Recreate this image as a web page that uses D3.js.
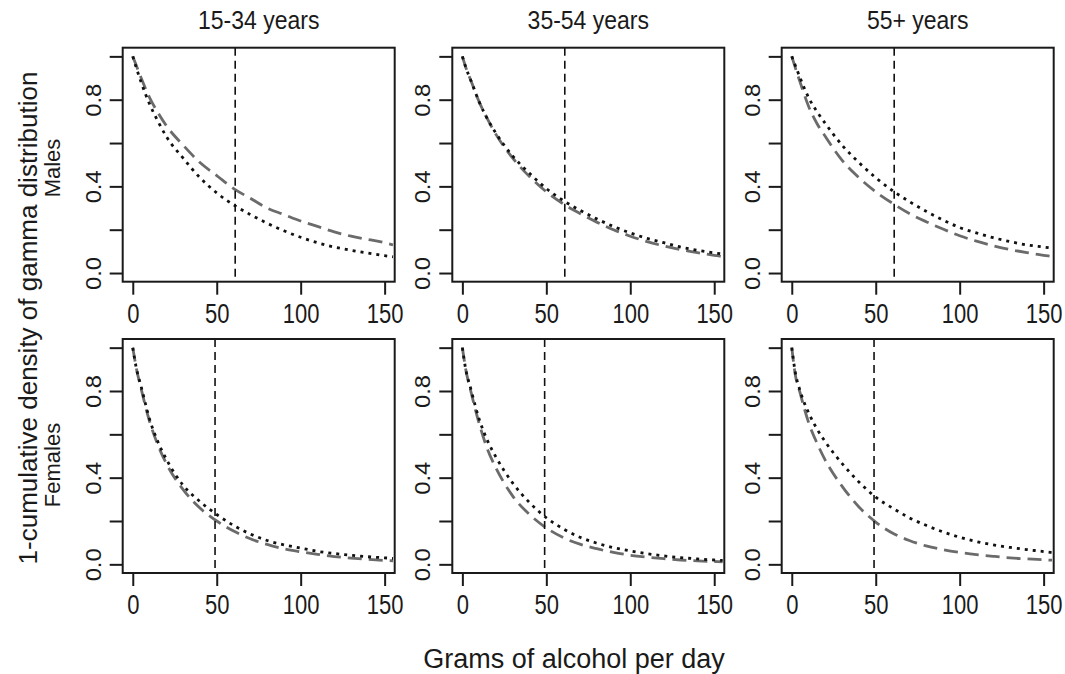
<!DOCTYPE html>
<html>
<head>
<meta charset="utf-8">
<script src="https://cdn.jsdelivr.net/npm/d3@7"></script>
<style>
  body { margin: 0; background: #fff; }
  svg text { font-family: "Liberation Sans", Arial, Helvetica, sans-serif; fill: #1a1a1a; }
</style>
</head>
<body>
<svg id="chart"></svg>
<script>
let width = 1065;
let height = 674;

// data
let ageGroups = ['15-34 years', '35-54 years', '55+ years'];
let sexes = ['Males', 'Females'];
let cutoffs = [61, 49];
let xTicks = [0, 50, 100, 150];
let yTicks = [0, 0.2, 0.4, 0.6, 0.8, 1.0];
let yLabelled = [0, 0.4, 0.8];
let grams = [0, 2, 5, 10, 15, 20, 30, 40, 50, 61, 70, 80, 90, 100, 110, 120, 130, 140, 150, 155];

// dotted black series
let males1534Dot   = [1, 0.95, 0.88, 0.78, 0.70, 0.63, 0.53, 0.44, 0.37, 0.31, 0.27, 0.23, 0.195, 0.165, 0.14, 0.12, 0.105, 0.092, 0.08, 0.075];
let males3554Dot   = [1, 0.95, 0.89, 0.79, 0.71, 0.645, 0.54, 0.46, 0.39, 0.33, 0.29, 0.25, 0.215, 0.185, 0.16, 0.14, 0.12, 0.105, 0.093, 0.088];
let males55Dot     = [1, 0.96, 0.90, 0.81, 0.745, 0.69, 0.59, 0.51, 0.44, 0.375, 0.33, 0.285, 0.245, 0.21, 0.185, 0.163, 0.145, 0.13, 0.12, 0.115];
let females1534Dot = [1, 0.91, 0.82, 0.67, 0.565, 0.485, 0.365, 0.29, 0.23, 0.175, 0.14, 0.11, 0.09, 0.075, 0.06, 0.05, 0.042, 0.035, 0.03, 0.027];
let females3554Dot = [1, 0.90, 0.81, 0.67, 0.57, 0.495, 0.375, 0.285, 0.215, 0.16, 0.125, 0.098, 0.077, 0.062, 0.049, 0.039, 0.031, 0.025, 0.02, 0.018];
let females55Dot   = [1, 0.89, 0.80, 0.70, 0.625, 0.565, 0.465, 0.38, 0.31, 0.255, 0.215, 0.18, 0.15, 0.125, 0.105, 0.09, 0.078, 0.068, 0.059, 0.054];

// dashed grey series
let males1534Dash   = [1, 0.96, 0.90, 0.81, 0.74, 0.68, 0.59, 0.51, 0.45, 0.385, 0.345, 0.30, 0.27, 0.24, 0.215, 0.19, 0.17, 0.155, 0.14, 0.13];
let males3554Dash   = [1, 0.95, 0.89, 0.79, 0.71, 0.64, 0.53, 0.445, 0.375, 0.315, 0.275, 0.235, 0.20, 0.17, 0.145, 0.125, 0.108, 0.094, 0.082, 0.076];
let males55Dash     = [1, 0.95, 0.88, 0.77, 0.69, 0.63, 0.52, 0.44, 0.375, 0.317, 0.275, 0.237, 0.203, 0.172, 0.147, 0.126, 0.108, 0.094, 0.082, 0.076];
let females1534Dash = [1, 0.91, 0.81, 0.66, 0.55, 0.465, 0.345, 0.26, 0.20, 0.15, 0.118, 0.092, 0.072, 0.058, 0.046, 0.036, 0.029, 0.023, 0.018, 0.016];
let females3554Dash = [1, 0.90, 0.80, 0.65, 0.53, 0.445, 0.315, 0.23, 0.168, 0.12, 0.093, 0.072, 0.055, 0.042, 0.033, 0.026, 0.02, 0.016, 0.013, 0.012];
let females55Dash   = [1, 0.88, 0.79, 0.655, 0.56, 0.48, 0.36, 0.265, 0.195, 0.14, 0.11, 0.085, 0.068, 0.055, 0.045, 0.037, 0.03, 0.025, 0.021, 0.019];

let dotted = [[males1534Dot, males3554Dot, males55Dot], [females1534Dot, females3554Dot, females55Dot]];
let dashed = [[males1534Dash, males3554Dash, males55Dash], [females1534Dash, females3554Dash, females55Dash]];

let colLeft = [122.7, 452.3, 781.7];
let rowTop = [47.7, 339];
let panelW = 272;
let panelH = 234;
// the original picture is a little taller than wide, so text looks stretched
let stretch = 1.25;

let svg = d3.select('#chart').attr('width', width).attr('height', height);

function drawPanel(row, col) {
    let g = svg.append('g')
        .attr('transform', `translate(${colLeft[col]}, ${rowTop[row]})`);
    let xScale = d3.scaleLinear().domain([-6, 156]).range([0, panelW]);
    let yScale = d3.scaleLinear().domain([-0.04, 1.04]).range([panelH, 0]);

    // x axis
    let xAxis = g.append('g')
        .attr('transform', `translate(0, ${panelH})`)
        .call(d3.axisBottom(xScale).tickValues(xTicks).tickSize(13));
    xAxis.select('.domain').remove();
    xAxis.selectAll('line').attr('stroke', '#1a1a1a').attr('stroke-width', 2);
    xAxis.selectAll('text')
        .attr('y', 0).attr('dy', null)
        .attr('transform', `translate(0, 41) scale(1, ${stretch})`)
        .style('font-size', '22px');

    // y axis, labels rotated like base R
    let yAxis = g.append('g')
        .call(d3.axisLeft(yScale).tickValues(yTicks).tickSize(13)
              .tickFormat(v => yLabelled.some(l => Math.abs(l - v) < 1e-9) ? d3.format('.1f')(v) : ''));
    yAxis.select('.domain').remove();
    yAxis.selectAll('line').attr('stroke', '#1a1a1a').attr('stroke-width', 2);
    yAxis.selectAll('text')
        .attr('x', 0).attr('y', -22).attr('dy', null)
        .attr('transform', 'scale(1, 1.08) rotate(-90)')
        .attr('text-anchor', 'middle')
        .style('font-size', '22px');

    let line = d3.line()
        .x((d, i) => xScale(grams[i]))
        .y(d => yScale(d))
        .curve(d3.curveMonotoneX);

    g.append('path')
        .attr('d', line(dashed[row][col]))
        .attr('fill', 'none')
        .attr('stroke', '#6b6b6b')
        .attr('stroke-width', 2.8)
        .attr('stroke-dasharray', '14,7');

    g.append('path')
        .attr('d', line(dotted[row][col]))
        .attr('fill', 'none')
        .attr('stroke', '#111')
        .attr('stroke-width', 2.8)
        .attr('stroke-dasharray', '3,5');

    // cut-off line
    g.append('line')
        .attr('x1', xScale(cutoffs[row])).attr('x2', xScale(cutoffs[row]))
        .attr('y1', 0).attr('y2', panelH)
        .attr('stroke', '#111')
        .attr('stroke-width', 1.6)
        .attr('stroke-dasharray', '8,5');

    g.append('rect')
        .attr('width', panelW).attr('height', panelH)
        .attr('fill', 'none')
        .attr('stroke', '#1a1a1a')
        .attr('stroke-width', 2);

    if (row === 0) {
        g.append('text')
            .attr('transform', `translate(${panelW / 2}, ${29 - rowTop[0]}) scale(1, 1.15)`)
            .attr('text-anchor', 'middle')
            .style('font-size', '23px')
            .text(ageGroups[col]);
    }
}

for (let r = 0; r < sexes.length; r++) {
    for (let c = 0; c < ageGroups.length; c++) {
        drawPanel(r, c);
    }
}

// row labels
let rowLabelY = [168, 465];
sexes.forEach((s, r) => {
    svg.append('text')
        .attr('transform', `translate(60, ${rowLabelY[r]}) rotate(-90)`)
        .attr('text-anchor', 'middle')
        .style('font-size', '22px')
        .text(s);
});

svg.append('text')
    .attr('transform', 'translate(37, 318) rotate(-90)')
    .attr('text-anchor', 'middle')
    .style('font-size', '26px')
    .text('1-cumulative density of gamma distribution');

svg.append('text')
    .attr('x', 574).attr('y', 668)
    .attr('text-anchor', 'middle')
    .style('font-size', '27px')
    .text('Grams of alcohol per day');
</script>
</body>
</html>
